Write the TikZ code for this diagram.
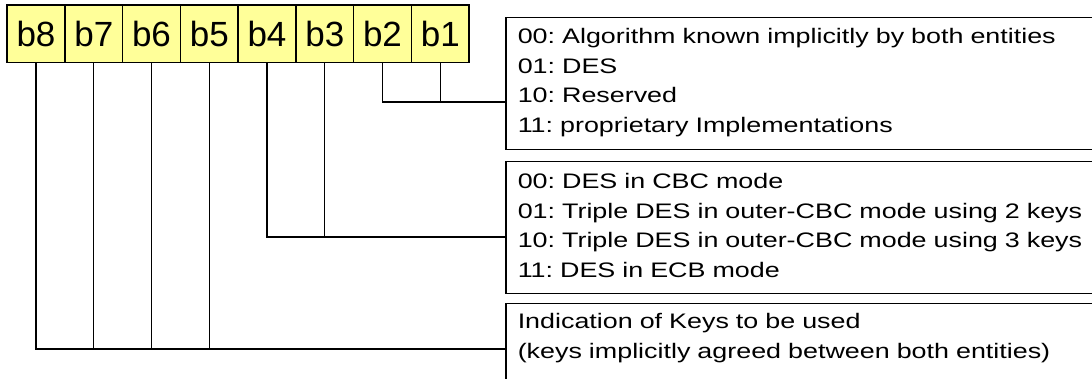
\documentclass[tikz,border=0pt]{standalone}
\usepackage{fontspec}
\setmainfont{Liberation Sans}
\newfontfamily\descfont[FakeStretch=1.28]{Liberation Sans}
\usepackage{tikz}
\usetikzlibrary{positioning}
\definecolor{bitfill}{RGB}{255,255,153}
\frenchspacing

\tikzset{
  bitbox/.style={draw, line width=1.5pt, fill=bitfill, minimum width=57.75pt,
    minimum height=57.5pt, inner sep=0pt, font=\fontsize{35}{35}\selectfont},
  descbox/.style={draw, line width=1.5pt, anchor=north west, align=left,
    text width=570pt, inner xsep=12pt, inner ysep=0pt,
    font=\descfont\fontsize{21}{29.5}\selectfont},
  wire/.style={line width=1.1pt}
}

\begin{document}
\begin{tikzpicture}[x=1pt,y=-1pt]
          \useasboundingbox (0,0) rectangle (1092,379);

          \node[bitbox](b8) at ( 36.0,34) {b8};
          \node[bitbox](b7) at ( 93.8,34) {b7};
          \node[bitbox](b6) at (151.5,34) {b6};
          \node[bitbox](b5) at (209.3,34) {b5};
          \node[bitbox](b4) at (267.0,34) {b4};
          \node[bitbox](b3) at (324.8,34) {b3};
          \node[bitbox](b2) at (382.5,34) {b2};
          \node[bitbox](b1) at (440.3,34) {b1};

          \node[descbox, text height=26pt, text depth=106pt](alg) at (505,17)
            {00: Algorithm known implicitly by both entities\\
             01: DES\\
             10: Reserved\\
             11: proprietary Implementations};
          \node[descbox, text height=27pt, text depth=105pt](mode) at (505,161)
            {00: DES in CBC mode\\
             01: Triple DES in outer-CBC mode using 2 keys\\
             10: Triple DES in outer-CBC mode using 3 keys\\
             11: DES in ECB mode};
          \node[descbox, text height=25pt, text depth=62pt](keys) at (505,303)
            {Indication of Keys to be used\\
             (keys implicitly agreed between both entities)};

          \coordinate (algin)  at (alg.west  |- 0,102);
          \coordinate (modein) at (mode.west |- 0,237);
          \coordinate (keysin) at (keys.west |- 0,349);

          \draw[wire] (b2) |- (algin);
          \draw[wire] (b1) -- (b1 |- algin);
          \draw[wire] (b4) |- (modein);
          \draw[wire] (b3) -- (b3 |- modein);
          \draw[wire] (b8) |- (keysin);
          \draw[wire] (b7) -- (b7 |- keysin) (b6) -- (b6 |- keysin) (b5) -- (b5 |- keysin);
        \end{tikzpicture}
\end{document}
